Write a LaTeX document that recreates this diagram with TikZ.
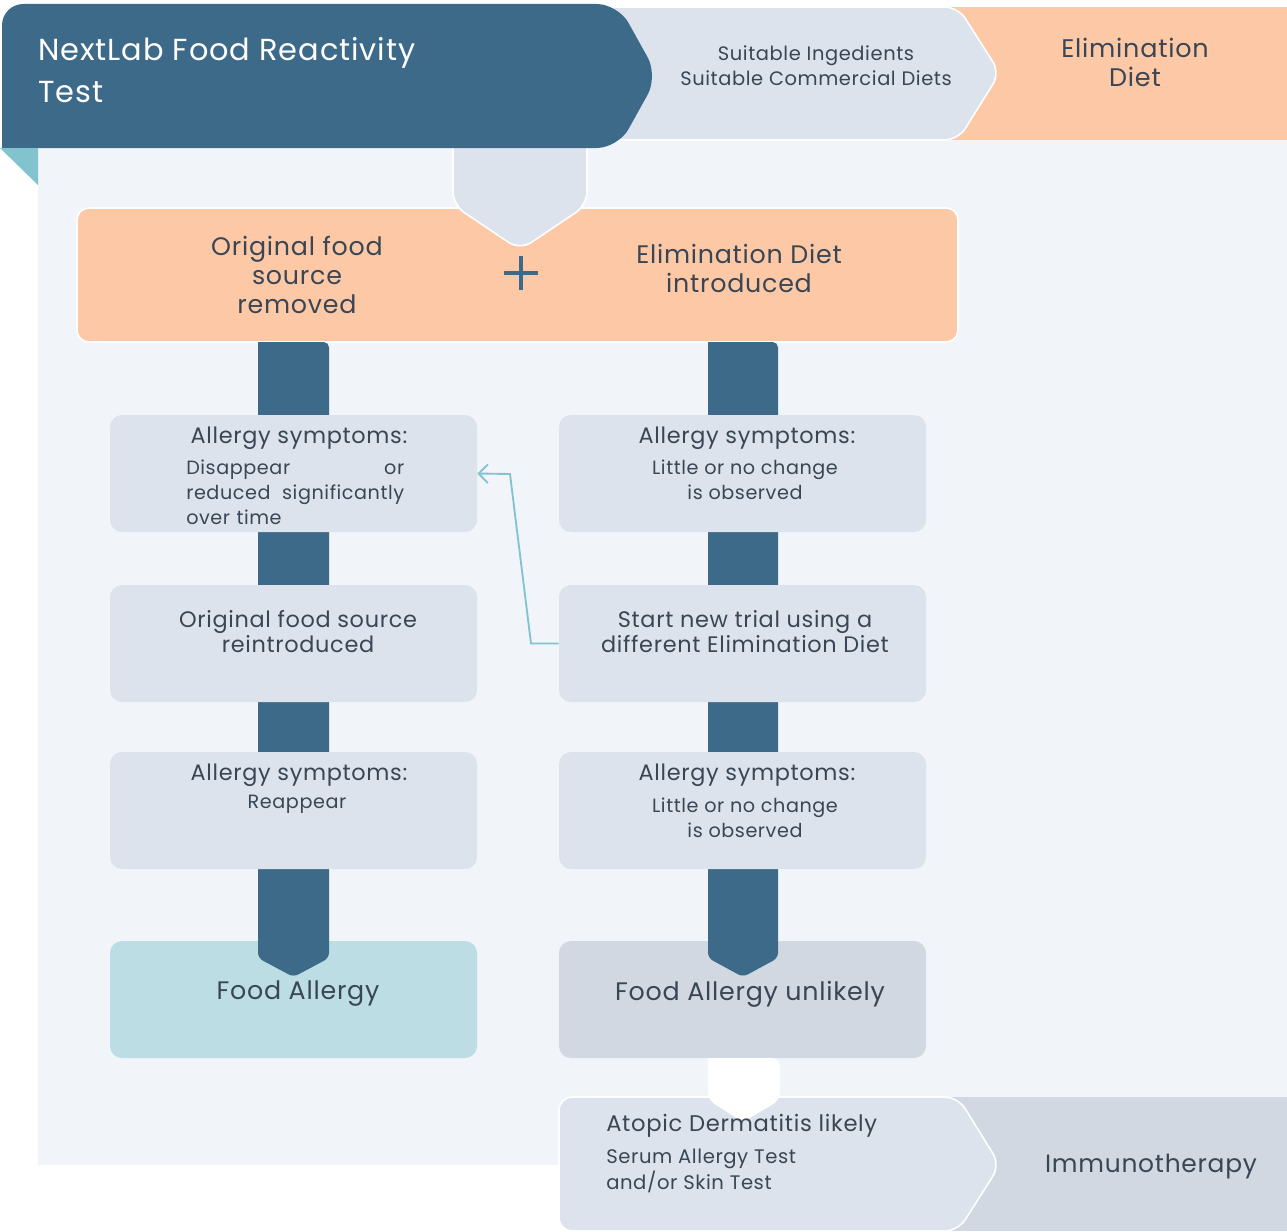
\documentclass[tikz,border=0pt]{standalone}
\usepackage{fontspec}
\setmainfont{Poppins}[LetterSpace=3]
\usetikzlibrary{arrows.meta}
\definecolor{darkb}{HTML}{3D6A89}
\definecolor{lightbox}{HTML}{DCE3ED}
\definecolor{panel}{HTML}{F1F5F9}
\definecolor{peach}{HTML}{FDC8A6}
\definecolor{tealbox}{HTML}{BBDDE3}
\definecolor{greybox}{HTML}{D1D8E2}
\definecolor{tealline}{HTML}{82C4CE}
\definecolor{txt}{HTML}{3A4654}
\tikzset{
  box/.style={rectangle, rounded corners=9pt, minimum width=275.25pt, minimum height=87.75pt, inner sep=0pt, fill=lightbox},
  head/.style={text=txt, font=\fontsize{16.8}{18.75}\selectfont, inner sep=0pt},
  sub/.style={text=txt, font=\fontsize{14.4}{18.75}\selectfont, inner sep=0pt, align=center},
  big/.style={text=txt, font=\fontsize{19}{21.75}\selectfont, inner sep=0pt, align=center},
  bar/.style={fill=darkb, rounded corners=4pt},
  chev/.style={draw=white, line width=1.2pt, rounded corners=10pt}
}
\begin{document}
\begin{tikzpicture}[x=0.75pt,y=-0.75pt]
\useasboundingbox (0,0) rectangle (1287,1231);
\fill[white] (0,0) rectangle (1287,1231);
\fill[panel] (38,140) rectangle (1287,1165);

% top band
\fill[peach] (940,7) rectangle (1287,140);
\path[chev, fill=lightbox] (590,7) -- (958,7) -- (1000,73) -- (958,140) -- (590,140) -- cycle;
\node[sub, font=\fontsize{14.6}{18.75}\selectfont] (ingr) at (816,66) {Suitable Ingedients\\Suitable Commercial Diets};
\node[big, font=\fontsize{19.1}{21.75}\selectfont] (elim) at (1135,62) {Elimination\\Diet};

% orange box
\node[rectangle, rounded corners=9pt, draw=white, line width=1.2pt, fill=peach, minimum width=660.75pt, minimum height=100.5pt] (orange) at (517.5,275) {};
% top connector
\path[chev, fill=lightbox] (453,130) -- (453,205) -- (520,250) -- (587,205) -- (587,130);
\coordinate (topc) at (520,250);

% banner
\fill[darkb, rounded corners=16pt] (2,100) -- (2,4) -- (618,4) -- (658,76) -- (618,148) -- (20,148) [sharp corners] -- (2,148) -- cycle;
\fill[tealline] (0,148) -- (38,148) -- (38,185) -- cycle;
\node[anchor=west, align=left, text=white, font=\fontsize{22.8}{32}\selectfont, inner sep=0pt] (title) at (38,70) {NextLab Food Reactivity\\Test};

\node[big] (orig) at (297,275) {Original food\\source\\removed};
\node[big] (intro) at (739,268) {Elimination Diet\\introduced};
\draw[darkb, line width=3pt] (504,273) -- (538,273) (521,256) -- (521,290);

% bottom boxes
\node[box, fill=tealbox] (L4) at (293.5,999.5) {};
\node[box, fill=greybox] (R4) at (742.5,999.5) {};

% bars
\path[bar] (258,342) -- (258,958) -- (293.5,977) -- (329,958) -- (329,342) [sharp corners] -- cycle;
\path[bar] (708,342) -- (708,958) -- (743,977) -- (778,958) -- (778,342) [sharp corners] -- cycle;

% rows
\node[box] (L1) at (293.5,473.5) {};
\node[box] (R1) at (742.5,473.5) {};
\node[box] (L2) at (293.5,643.5) {};
\node[box] (R2) at (742.5,643.5) {};
\node[box] (L3) at (293.5,810.5) {};
\node[box] (R3) at (742.5,810.5) {};

\node[head] (L1h) at (299,438) {Allergy symptoms:};
\node[sub, align=left, text width=163.5pt, anchor=north west] (L1s) at (186,460) {Disappear\hfill or\\reduced\hfill significantly\\over time};
\node[head] (R1h) at (747,438) {Allergy symptoms:};
\node[sub] (R1s) at (745,480) {Little or no change\\is observed};
\node[head, align=center] (L2t) at (298,632) {Original food source\\reintroduced};
\node[head, align=center] (R2t) at (745,632) {Start new trial using a\\different Elimination Diet};
\node[head] (L3h) at (299,775) {Allergy symptoms:};
\node[sub] (L3s) at (297,804) {Reappear};
\node[head] (R3h) at (747,775) {Allergy symptoms:};
\node[sub] (R3s) at (745,818) {Little or no change\\is observed};
\node[big] (L4t) at (298,994) {Food Allergy};
\node[big] (R4t) at (750,994) {Food Allergy unlikely};

% loop arrow
\draw[tealline, line width=1.4pt, -{Straight Barb[length=7pt,width=14pt]}] (R2.west) -- (531,643.5) -- (510,474) -- (L1.east);

% bottom band
\fill[greybox] (940,1097) rectangle (1287,1231);
\path[chev, fill=lightbox] (559,1097) -- (958,1097) -- (1000,1165) -- (958,1231) -- (559,1231) -- cycle;
\fill[white, rounded corners=6pt] (708,1058) -- (708,1100) -- (743,1122) -- (780,1100) -- (780,1058) [sharp corners] -- cycle;
\node[head, anchor=west, font=\fontsize{17}{18}\selectfont] (atop) at (606,1126) {Atopic Dermatitis likely};
\node[sub, anchor=west, align=left, font=\fontsize{14.7}{19.5}\selectfont] (serum) at (606,1171) {Serum Allergy Test\\and/or Skin Test};
\node[big, font=\fontsize{18.7}{22}\selectfont] (immu) at (1151,1166) {Immunotherapy};
\end{tikzpicture}
\end{document}
